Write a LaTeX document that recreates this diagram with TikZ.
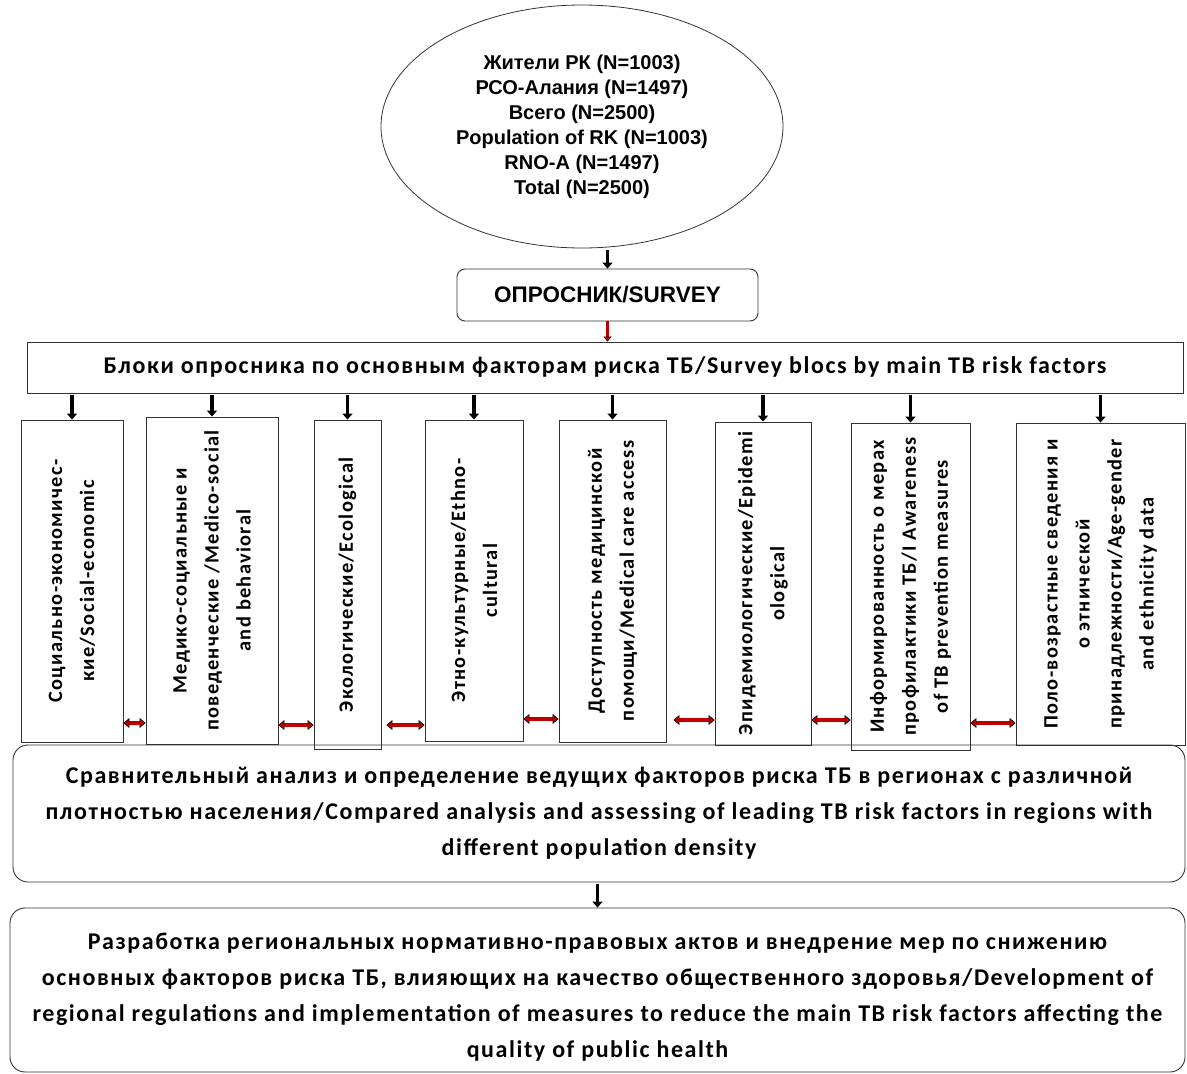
\documentclass[tikz,border=0pt]{standalone}
\usepackage{fontspec}
\setmainfont{Carlito}
\newfontfamily\arialfont{Liberation Sans}
\newfontfamily\spacedfont[LetterSpace=6.5]{Carlito}
\usetikzlibrary{positioning,arrows.meta,shapes.geometric,calc}
\definecolor{linkred}{RGB}{192,0,0}

\begin{document}
\begin{tikzpicture}[
  x=1pt, y=1pt,
  >={Triangle[length=6pt,width=10pt]},
  box/.style={draw=black!80, line width=0.9pt, inner sep=0pt},
  roundbox/.style={box, rounded corners=15pt},
  vtext/.style={rotate=90, align=center, font=\spacedfont\fontsize{20.4}{32}\selectfont\bfseries},
  wide/.style={align=center, font=\spacedfont\fontsize{24}{36}\selectfont\bfseries},
  arr/.style={->, line width=3.5pt, shorten <=2pt},
  redarr/.style={-{Triangle[length=5pt,width=8pt,fill=linkred]}, draw=black,
    line width=0.6pt, double=linkred, double distance=2.4pt},
  link/.style={{Triangle[length=6pt,width=10pt,fill=linkred]}-{Triangle[length=6pt,width=10pt,fill=linkred]},
    draw=black, line width=0.6pt, double=linkred, double distance=3.4pt}
]
\useasboundingbox (0,0) rectangle (1187,-1074);

% ---------- Sample ----------
\node[draw=black!80, line width=0.8pt, ellipse, minimum width=402pt, minimum height=243pt,
      align=center, font=\arialfont\fontsize{20}{25}\selectfont\bfseries] (pop) at (582,-126.5)
  {Жители РК (N=1003)\\ РСО-Алания (N=1497)\\ Всего (N=2500)\\
   Population of RK (N=1003)\\ RNO-A (N=1497)\\ Total (N=2500)};

% ---------- Survey ----------
\node[box, rounded corners=8pt, minimum width=301pt, minimum height=52pt,
      font=\arialfont\fontsize{22.5}{26}\selectfont\bfseries] (survey) at (607.5,-295)
  {ОПРОСНИК/SURVEY};

\node[box, minimum width=1156pt, minimum height=51pt, wide]
  (blocs) at (605,-367.5)
  {Блоки опросника по основным факторам риска ТБ/Survey blocs by main TB risk factors};

% ---------- Risk factor blocs ----------
\node[box, minimum width=102pt, minimum height=322pt] (v1) at (72,-581) {};
\node[vtext] at (v1) {Социально-экономичес-\\кие/Social-economic};

\node[box, minimum width=132pt, minimum height=327pt] (v2) at (212,-580.5) {};
\node[vtext] at (v2) {Медико-социальные и\\поведенческие /Medico-social\\and behavioral};

\node[box, minimum width=67pt, minimum height=329pt] (v3) at (347.5,-584.5) {};
\node[vtext] at (v3) {Экологические/Ecological};

\node[box, minimum width=98pt, minimum height=321pt] (v4) at (474,-580.5) {};
\node[vtext] at (v4) {Этно-культурные/Ethno-\\cultural};

\node[box, minimum width=107pt, minimum height=322pt] (v5) at (612.5,-581) {};
\node[vtext] at (v5) {Доступность медицинской\\помощи/Medical care access};

\node[box, minimum width=96pt, minimum height=323pt] (v6) at (763,-583.5) {};
\node[vtext] at (v6) {Эпидемиологические/Epidemi\\ological};

\node[box, minimum width=119pt, minimum height=327pt] (v7) at (910.5,-586.5) {};
\node[vtext] at (v7) {Информированность о мерах\\профилактики ТБ/I Awareness\\of TB prevention measures};

\node[box, minimum width=169pt, minimum height=322pt] (v8) at (1100.5,-584) {};
\node[vtext] at (v8) {Поло-возрастные сведения и\\о этнической\\принадлежности/Age-gender\\and ethnicity data};

% ---------- Results ----------
\node[roundbox, minimum width=1172pt, minimum height=137pt, wide] (compare) at (599,-813.5)
  {Сравнительный анализ и определение ведущих факторов риска ТБ в регионах с различной\\
   плотностью населения/Compared analysis and assessing of leading TB risk factors in regions with\\
   different population density};

\node[roundbox, minimum width=1175pt, minimum height=164pt] (measures) at (597.5,-990) {};
\node[wide, yshift=-7pt] at (measures)
  {Разработка региональных нормативно-правовых актов и внедрение мер по снижению\\
   основных факторов риска ТБ, влияющих на качество общественного здоровья/Development of\\
   regional regulations and implementation of measures to reduce the main TB risk factors affecting the\\
   quality of public health};

% ---------- Connectors ----------
\draw[arr] (pop.south -| survey.north) -- (survey.north);
\draw[redarr] (survey.south) -- (survey.south |- blocs.north);
\foreach \v in {v1,v2,v3,v4,v5,v6,v7,v8}
  \draw[arr] (blocs.south -| \v.north) -- (\v.north);
\draw[arr] (compare.south -| measures.north) -- (measures.north);

\coordinate (l12) at (0,-723);
\coordinate (l23) at (0,-725);
\coordinate (l45) at (0,-719);
\coordinate (l56) at (0,-720);
\draw[link] (v1.east |- l12) -- (v2.west |- l12);
\draw[link] (v2.east |- l23) -- (v3.west |- l23);
\draw[link] ([xshift=5pt]v3.east |- l23) -- (v4.west |- l23);
\draw[link] (v4.east |- l45) -- (v5.west |- l45);
\draw[link] ([xshift=7pt]v5.east |- l56) -- (v6.west |- l56);
\draw[link] (v6.east |- l56) -- (v7.west |- l56);
\draw[link] (v7.east |- l12) -- (v8.west |- l12);

\end{tikzpicture}
\end{document}
